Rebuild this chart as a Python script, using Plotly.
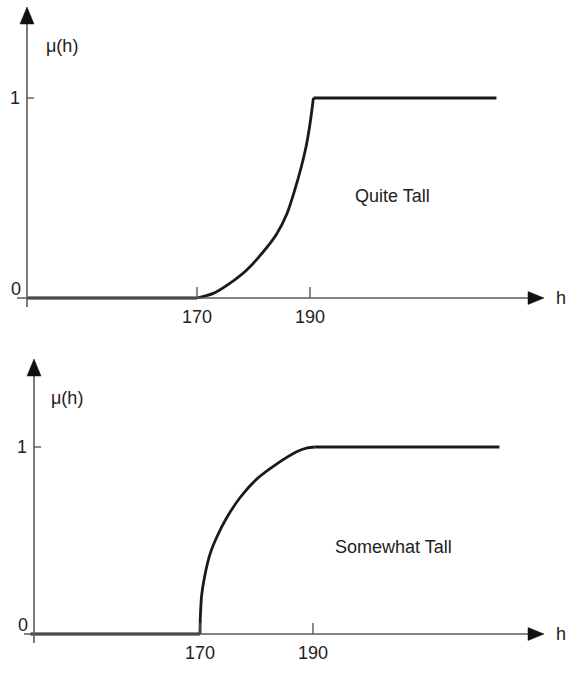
import plotly.graph_objects as go

# ---------------- data ----------------
quite_h = [170, 172.9, 175.8, 178.8, 181.7, 184.1, 185.9, 187.3, 188.5, 189.4, 190.1, 190.6]
quite_mu = [0, 0.023, 0.073, 0.14, 0.23, 0.32, 0.42, 0.54, 0.66, 0.77, 0.89, 1.0]

somewhat_h = [170, 170.05, 170.3, 170.9, 171.8, 173.0, 174.7, 177.1, 180.1, 183.6, 187.1, 189, 190.3]
somewhat_mu = [0, 0.08, 0.21, 0.32, 0.43, 0.52, 0.62, 0.73, 0.83, 0.91, 0.975, 0.995, 1.0]

zero_h = [140, 170]
zero_mu = [0, 0]
quite_one_h = [190.6, 223]
somewhat_one_h = [190.3, 223]
one_mu = [1, 1]

x_ticks = [170, 190]
x_tick_labels = ["170", "190"]
y_ticks = [0, 1]
y_tick_labels = ["0", "1"]
panel_labels = ["Quite Tall", "Somewhat Tall"]
y_title = "μ(h)"
x_title = "h"

W, H = 567, 673
FONT = "Liberation Sans, Arial, Helvetica, sans-serif"
AXIS_COL = "#5a5a5a"
CURVE_COL = "#1a1a1a"
TXT = "#222"
FS = 18

# pixel calibration for each panel (layout only)
panels = [
    dict(x170=197, x190=310, y0=298, y1=98, top=0, bot=336, axis_px=27,
         arrow_tip=7, label_y=196, label_x=392, mu_x=62, mu_y=46),
    dict(x170=200, x190=313, y0=634, y1=447, top=336, bot=673, axis_px=34,
         arrow_tip=359, label_y=547, label_x=393, mu_x=67, mu_y=398),
]

fig = go.Figure()
layout_axes = {}
shapes = []
annotations = []
series = [(quite_h, quite_mu, quite_one_h), (somewhat_h, somewhat_mu, somewhat_one_h)]

for i, p in enumerate(panels):
    sx = (p["x190"] - p["x170"]) / (x_ticks[1] - x_ticks[0])
    sy = (p["y0"] - p["y1"])
    xr = [170 - p["x170"] / sx, 170 + (W - p["x170"]) / sx]
    yr = [(p["y0"] - p["bot"]) / sy, (p["y0"] - p["top"]) / sy]
    xa = "xaxis" if i == 0 else f"xaxis{i+1}"
    ya = "yaxis" if i == 0 else f"yaxis{i+1}"
    xref = "x" if i == 0 else f"x{i+1}"
    yref = "y" if i == 0 else f"y{i+1}"
    layout_axes[xa] = dict(range=xr, domain=[0, 1], visible=False, fixedrange=True, anchor=yref)
    layout_axes[ya] = dict(range=yr, domain=[1 - p["bot"] / H, 1 - p["top"] / H], visible=False,
                           fixedrange=True, anchor=xref)

    def hx(px, sx=sx, p=p):
        return 170 + (px - p["x170"]) / sx

    def my(py, sy=sy, p=p):
        return (p["y0"] - py) / sy

    ax_x = hx(p["axis_px"])
    # x axis line
    shapes.append(dict(type="line", xref=xref, yref=yref, x0=hx(p["axis_px"] - 10), x1=hx(530),
                       y0=0, y1=0, line=dict(color=AXIS_COL, width=1.6)))
    # y axis line
    shapes.append(dict(type="line", xref=xref, yref=yref, x0=ax_x, x1=ax_x,
                       y0=my(p["y0"] + 9), y1=my(p["arrow_tip"] + 15), line=dict(color=AXIS_COL, width=1.6)))
    # arrow heads
    tipx = hx(544)
    basex = hx(528)
    shapes.append(dict(type="path", xref=xref, yref=yref,
                       path=f"M {basex},{my(p['y0'] - 6.5)} L {tipx},0 L {basex},{my(p['y0'] + 6.5)} Z",
                       fillcolor="#111", line=dict(color="#111", width=0.5)))
    tipy = my(p["arrow_tip"])
    basey = my(p["arrow_tip"] + 17)
    shapes.append(dict(type="path", xref=xref, yref=yref,
                       path=f"M {hx(p['axis_px'] - 7)},{basey} L {ax_x},{tipy} L {hx(p['axis_px'] + 7)},{basey} Z",
                       fillcolor="#111", line=dict(color="#111", width=0.5)))
    # x ticks
    for t, lab in zip(x_ticks, x_tick_labels):
        shapes.append(dict(type="line", xref=xref, yref=yref, x0=t, x1=t, y0=0, y1=my(p["y0"] - 11),
                           line=dict(color=AXIS_COL, width=1.4)))
        annotations.append(dict(x=t, y=my(p["y0"] + 8), xref=xref, yref=yref, text=lab, yanchor="top",
                                showarrow=False, borderpad=0, font=dict(family=FONT, size=FS, color=TXT)))
    # y tick at 1
    shapes.append(dict(type="line", xref=xref, yref=yref, x0=ax_x, x1=hx(p["axis_px"] + 7),
                       y0=1, y1=1, line=dict(color=AXIS_COL, width=1.4)))
    annotations.append(dict(x=hx(p["axis_px"] - 12), y=1, xref=xref, yref=yref, text=y_tick_labels[1],
                            showarrow=False, font=dict(family=FONT, size=FS, color=TXT)))
    annotations.append(dict(x=hx(p["axis_px"] - 11), y=my(p["y0"] - 9), xref=xref, yref=yref,
                            text=y_tick_labels[0], showarrow=False,
                            font=dict(family=FONT, size=FS, color=TXT)))
    # axis titles
    annotations.append(dict(x=hx(555), y=0, xref=xref, yref=yref, text=x_title, showarrow=False,
                            xanchor="left", borderpad=0, font=dict(family=FONT, size=FS, color=TXT)))
    annotations.append(dict(x=hx(p["mu_x"]), y=my(p["mu_y"]), xref=xref, yref=yref, text=y_title,
                            showarrow=False, font=dict(family=FONT, size=FS, color=TXT)))
    # panel label
    annotations.append(dict(x=hx(p["label_x"]), y=my(p["label_y"]), xref=xref, yref=yref,
                            text=panel_labels[i], showarrow=False,
                            font=dict(family=FONT, size=FS, color=TXT)))
    # flat parts + curve
    hs, mus, one_h = series[i]
    for xs, ys, shp in [(zero_h, zero_mu, "linear"), (hs, mus, "spline"), (one_h, one_mu, "linear")]:
        fig.add_trace(go.Scatter(x=xs, y=ys, mode="lines", xaxis=xref, yaxis=yref,
                                 line=dict(color=CURVE_COL, width=2.8, shape=shp, smoothing=0.7),
                                 hoverinfo="skip", showlegend=False))

fig.update_layout(width=W, height=H, margin=dict(l=0, r=0, t=0, b=0),
                  paper_bgcolor="white", plot_bgcolor="white", showlegend=False,
                  shapes=shapes, annotations=annotations, **layout_axes)

fig.write_html("out.html", config={"displayModeBar": False, "staticPlot": True})

# remove the default page margin so the figure sits at the window's top-left corner
with open("out.html", "r", encoding="utf-8") as f:
    html = f.read()
html = html.replace("<head>", "<head><style>html,body{margin:0;padding:0;overflow:hidden;}</style>", 1)
with open("out.html", "w", encoding="utf-8") as f:
    f.write(html)
